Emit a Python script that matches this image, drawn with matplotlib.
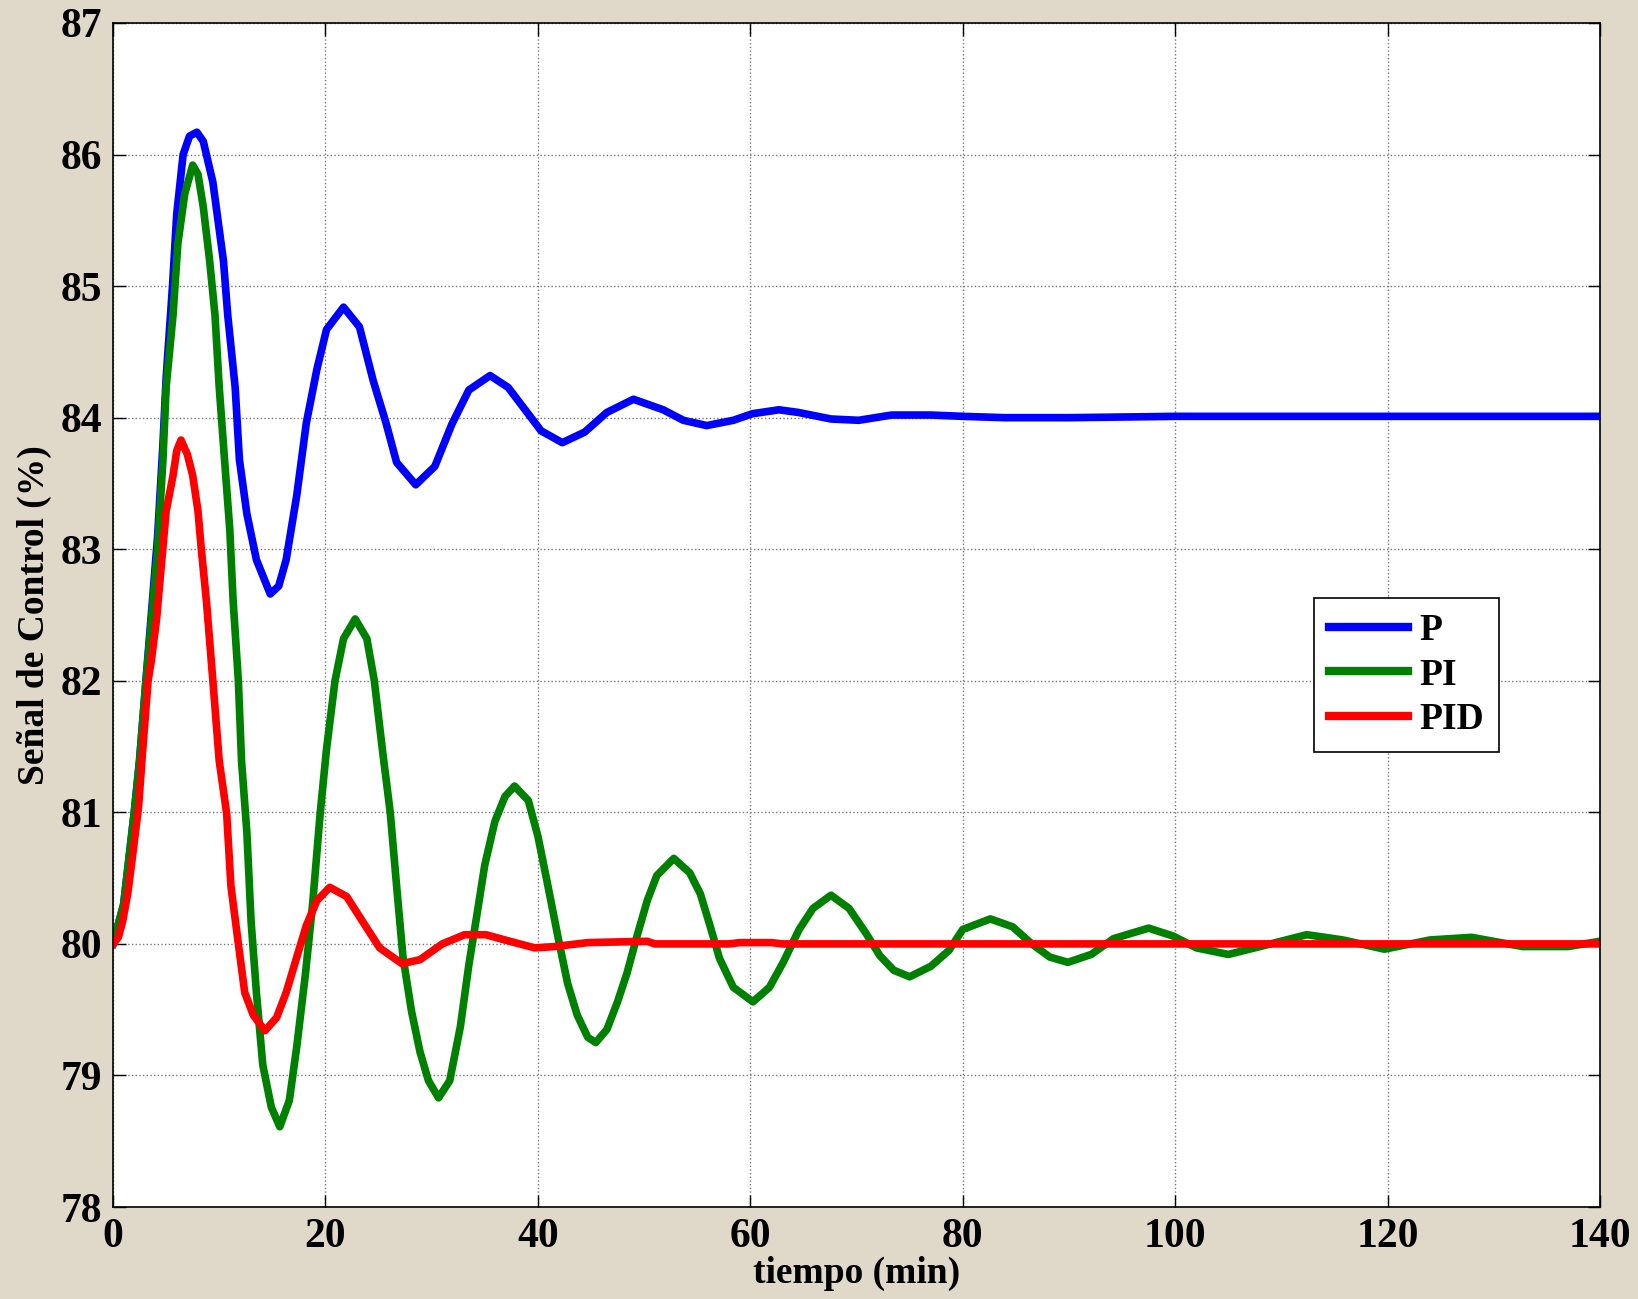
import matplotlib
matplotlib.use("Agg")
import matplotlib.pyplot as plt

# curves (time in min, control signal in %)
t_p = [0, 1, 2, 2.5, 3.1, 3.6, 4.2, 4.7, 5.0, 5.6, 6.0, 6.6, 7.2, 7.9, 8.5, 9.4,
       10.4, 10.8, 11.5, 11.9, 12.6, 13.5, 14.8, 15.6, 16.3, 17.3, 18.2, 19.2,
       20.1, 21.7, 23.2, 24.5, 25.7, 26.7, 28.5, 30.3, 31.9, 33.5, 35.5, 37.2,
       38.8, 40.3, 42.3, 44.4, 46.5, 49.0, 51.8, 53.7, 55.9, 58.4, 60.2, 62.7,
       64.5, 67.6, 70.2, 73.3, 77, 80, 84, 90, 100, 140]
u_p = [80.0, 80.3, 81.0, 81.4, 82.0, 82.5, 83.1, 83.8, 84.3, 85.0, 85.55, 86.0,
       86.14, 86.17, 86.1, 85.79, 85.19, 84.78, 84.23, 83.68, 83.27, 82.92, 82.66,
       82.72, 82.92, 83.41, 83.96, 84.37, 84.67, 84.84, 84.69, 84.28, 83.96, 83.66,
       83.49, 83.63, 83.95, 84.21, 84.32, 84.23, 84.06, 83.90, 83.81, 83.89, 84.04,
       84.14, 84.06, 83.98, 83.94, 83.98, 84.03, 84.06, 84.04, 83.99, 83.98, 84.02,
       84.02, 84.01, 84.0, 84.0, 84.01, 84.01]

t_pi = [0, 1, 2, 2.5, 3.1, 3.6, 4.2, 4.7, 5.0, 5.65, 6.1, 6.75, 7.5, 8.0, 8.5, 9.1,
        9.6, 10.0, 10.5, 11.0, 11.3, 11.8, 12.1, 12.6, 13.0, 13.5, 14.1, 14.9, 15.7,
        16.6, 17.3, 18.1, 18.8, 19.5, 20.1, 20.9, 21.7, 22.8, 23.9, 24.6, 25.4, 26.1,
        26.7, 27.3, 28.1, 28.9, 29.7, 30.65, 31.7, 32.7, 33.5, 34.2, 35.0, 35.95,
        36.9, 37.8, 39.1, 40.0, 40.9, 41.9, 42.8, 43.7, 44.7, 45.45, 46.5, 47.5,
        48.4, 49.3, 50.3, 51.2, 52.8, 54.3, 55.3, 56.2, 57.1, 58.4, 60.25, 61.8,
        63.1, 64.6, 65.9, 67.6, 69.3, 70.9, 72.2, 73.5, 75.0, 77.0, 78.7, 80.0,
        82.6, 84.7, 86.5, 88.2, 89.9, 92.1, 94.2, 97.5, 99.8, 102.0, 105.0, 108.0,
        112.4, 115.8, 119.7, 124.0, 127.9, 132.7, 137.0, 140]
u_pi = [80.0, 80.3, 81.0, 81.39, 82.0, 82.45, 83.0, 83.68, 84.23, 84.78, 85.32,
        85.70, 85.92, 85.85, 85.6, 85.19, 84.78, 84.23, 83.68, 83.14, 82.62, 82.0,
        81.39, 80.85, 80.17, 79.63, 79.08, 78.76, 78.61, 78.81, 79.22, 79.76, 80.31,
        80.99, 81.48, 82.0, 82.32, 82.47, 82.32, 82.0, 81.45, 81.0, 80.44, 79.90,
        79.49, 79.18, 78.96, 78.83, 78.96, 79.37, 79.84, 80.19, 80.60, 80.93, 81.12,
        81.20, 81.09, 80.82, 80.46, 80.05, 79.70, 79.46, 79.29, 79.25, 79.35, 79.56,
        79.78, 80.05, 80.33, 80.52, 80.65, 80.54, 80.38, 80.14, 79.89, 79.67, 79.56,
        79.67, 79.86, 80.11, 80.27, 80.37, 80.27, 80.08, 79.91, 79.80, 79.75, 79.83,
        79.95, 80.11, 80.19, 80.13, 80.0, 79.90, 79.86, 79.92, 80.04, 80.12, 80.06,
        79.97, 79.92, 79.98, 80.07, 80.03, 79.96, 80.03, 80.05, 79.98, 79.98, 80.02]

t_pid = [0, 0.5, 0.9, 1.4, 1.9, 2.4, 2.8, 3.3, 3.6, 4.1, 4.55, 5.0, 5.65, 6.0, 6.4,
         7.0, 7.5, 8.0, 8.3, 8.8, 9.4, 10.0, 10.7, 11.1, 11.8, 12.4, 13.2, 14.3,
         15.4, 16.3, 17.3, 18.2, 19.2, 20.4, 22.0, 23.5, 25.1, 27.2, 28.9, 31.0,
         33.1, 35.1, 36.9, 39.7, 41.6, 44.7, 50.3, 51, 58, 59, 62, 63, 140]
u_pid = [80.0, 80.05, 80.17, 80.39, 80.71, 81.04, 81.48, 82.0, 82.15, 82.47, 82.88,
         83.29, 83.56, 83.75, 83.83, 83.72, 83.56, 83.29, 83.01, 82.6, 82.0, 81.39,
         80.99, 80.44, 80.0, 79.63, 79.46, 79.34, 79.44, 79.63, 79.90, 80.14, 80.33,
         80.43, 80.36, 80.17, 79.97, 79.85, 79.88, 80.0, 80.07, 80.07, 80.03, 79.97,
         79.98, 80.01, 80.02, 80.0, 80.0, 80.01, 80.01, 80.0, 80.0]

x_ticks = [0, 20, 40, 60, 80, 100, 120, 140]
y_ticks = [78, 79, 80, 81, 82, 83, 84, 85, 86, 87]

plt.rcParams['font.family'] = ['Liberation Serif', 'DejaVu Serif']
plt.rcParams['font.weight'] = 'bold'

fig = plt.figure(figsize=(16.38, 12.99), dpi=100, facecolor='#e0d8c9')
ax = fig.add_axes([0.0690, 0.0708, 0.9078, 0.9115])
ax.set_facecolor('white')

ax.plot(t_p, u_p, color='#0000ff', lw=5.5, label='P', solid_joinstyle='round')
ax.plot(t_pi, u_pi, color='#008000', lw=5.5, label='PI', solid_joinstyle='round')
ax.plot(t_pid, u_pid, color='#ff0000', lw=5.5, label='PID', solid_joinstyle='round')

ax.set_xlim(0, 140)
ax.set_ylim(78, 87)
ax.set_xticks(x_ticks)
ax.set_yticks(y_ticks)
ax.grid(True, color='#777777', linestyle=':', linewidth=1.0)
ax.tick_params(axis='both', direction='in', length=9, width=1, labelsize=30,
               top=True, right=True, pad=8)
for s in ax.spines.values():
    s.set_linewidth(1.2)

ax.set_xlabel('tiempo (min)', fontsize=27, fontweight='bold', labelpad=0)
ax.set_ylabel('Señal de Control (%)', fontsize=27, fontweight='bold', labelpad=6)

leg = ax.legend(loc='upper left', bbox_to_anchor=(0.795, 0.530), fontsize=27,
                handlelength=2.1, handletextpad=0.3, labelspacing=0.25,
                borderpad=0.4, fancybox=False, framealpha=1, edgecolor='black')
leg.get_frame().set_linewidth(1.2)
for line in leg.get_lines():
    line.set_linewidth(6)

plt.savefig('out.png', dpi=100, facecolor=fig.get_facecolor())
